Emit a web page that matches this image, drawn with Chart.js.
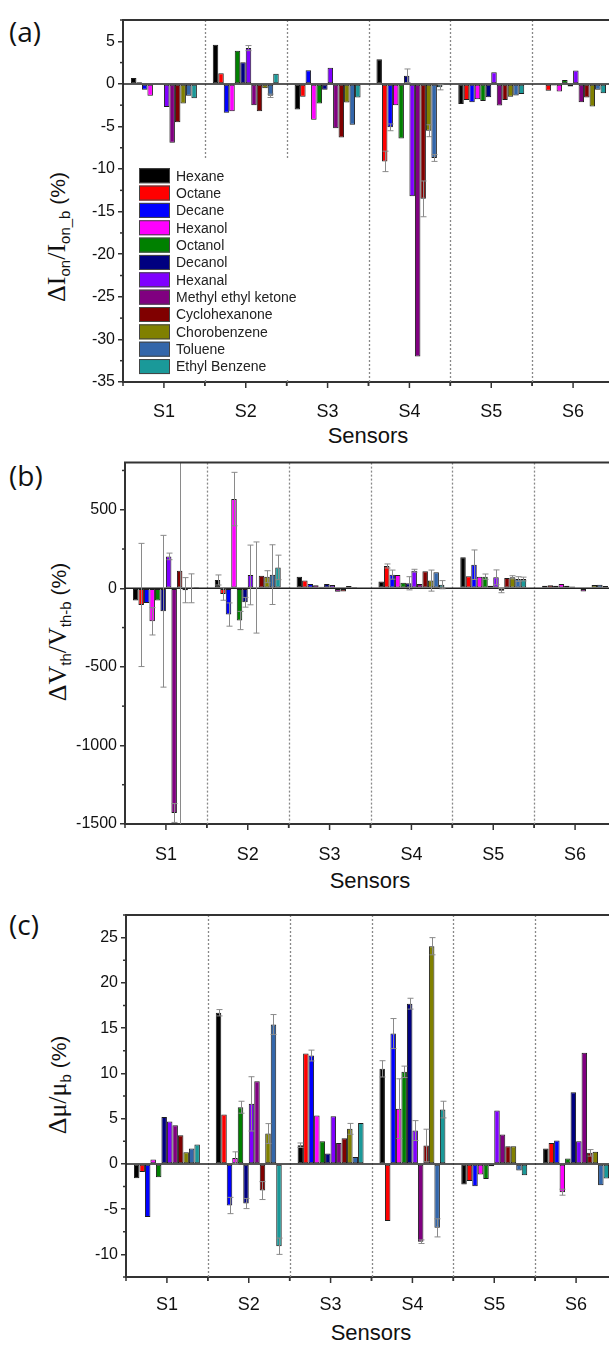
<!DOCTYPE html>
<html>
<head>
<meta charset="utf-8">
<script src="https://cdn.jsdelivr.net/npm/chart.js@4.4.0/dist/chart.umd.min.js"></script>
<style>
  html, body { margin: 0; padding: 0; background: #fff; overflow: hidden; width: 609px; height: 1347px; }
  .panel { position: absolute; left: 0; }
  .tag { position: absolute; left: 9px; font: 28px "Open Sans", "Liberation Sans", sans-serif; color: #111; }
  .ytitle { position: absolute; width: 300px; height: 30px; line-height: 30px; text-align: center;
            transform: rotate(-90deg); white-space: nowrap; font: 21px "Liberation Sans", Arial, sans-serif; color: #111; }
  .ytitle .s { font-family: "Liberation Serif", "Times New Roman", serif; font-size: 26px; }
  .ytitle sub { font-family: "Liberation Sans", Arial, sans-serif; font-size: 15px; vertical-align: -5px; }
  .xtitle { position: absolute; width: 200px; text-align: center; font: 22px "Liberation Sans", Arial, sans-serif; color: #111; }
</style>
</head>
<body>
<div class="tag" style="top:12px">(a)</div>
<div class="tag" style="top:456px">(b)</div>
<div class="tag" style="top:905px">(c)</div>

<div class="ytitle" style="left:-93px; top:222px"><span class="s">ΔI</span><sub>on</sub><span class="s">/I</span><sub>on_b</sub> (%)</div>
<div class="ytitle" style="left:-92px; top:617px"><span class="s">ΔV</span><sub>th</sub><span class="s">/V</span><sub>th-b</sub> (%)</div>
<div class="ytitle" style="left:-92px; top:1070px"><span class="s">Δμ/μ</span><sub>b</sub> (%)</div>

<div class="xtitle" style="left:268px; top:423px">Sensors</div>
<div class="xtitle" style="left:270px; top:868px">Sensors</div>
<div class="xtitle" style="left:271px; top:1320px">Sensors</div>

<canvas id="chartA" class="panel" style="top:0px" width="640" height="450"></canvas>
<canvas id="chartB" class="panel" style="top:450px" width="640" height="450"></canvas>
<canvas id="chartC" class="panel" style="top:900px" width="640" height="447"></canvas>

<script>
const sensors = ['S1', 'S2', 'S3', 'S4', 'S5', 'S6'];
const solvents = ['Hexane', 'Octane', 'Decane', 'Hexanol', 'Octanol', 'Decanol', 'Hexanal',
  'Methyl ethyl ketone', 'Cyclohexanone', 'Chorobenzene', 'Toluene', 'Ethyl Benzene'];
const solventColors = ['#000000', '#ff0000', '#0000ff', '#ff00ff', '#008000', '#000080', '#8000ff',
  '#800080', '#800000', '#808000', '#3366aa', '#1a9999'];

// (a) on-current change, %, one row per solvent, S1..S6
const ionChange = [
  [0.7, 4.6, -3.0, 2.9, -2.35, 0],
  [0.2, 1.25, -1.5, -9.1, -1.9, -0.8],
  [-0.7, -3.4, 1.6, -5.1, -2.15, -0.2],
  [-1.4, -3.2, -4.2, -2.5, -1.8, -0.9],
  [-0.1, 3.9, -2.3, -6.4, -2.0, 0.47],
  [-0.1, 2.55, -0.7, 0.95, -1.57, -0.3],
  [-2.7, 4.2, 1.9, -13.2, 1.37, 1.57],
  [-6.9, -2.5, -5.2, -32.0, -2.55, -2.15],
  [-4.5, -3.2, -6.3, -13.5, -1.9, -1.6],
  [-2.3, -0.5, -2.2, -5.5, -1.5, -2.67],
  [-1.4, -1.4, -4.8, -8.7, -1.37, -0.7],
  [-1.7, 1.2, -1.6, -0.4, -1.2, -1.1]
];
const ionError = [
  [0, 0, 0, 0, 0, 0],
  [0, 0, 0, 1.2, 0, 0],
  [0, 0, 0, 0.4, 0, 0],
  [0, 0, 0, 0, 0, 0],
  [0, 0, 0, 0, 0, 0],
  [0, 0, 0, 0.8, 0, 0],
  [0, 0.3, 0, 0, 0, 0],
  [0, 0, 0, 0, 0, 0],
  [0, 0, 0, 2.1, 0, 0],
  [0, 0, 0, 0.7, 0, 0],
  [0, 0.2, 0, 0.4, 0, 0],
  [0, 0, 0, 0.3, 0, 0]
];
const ionTicks = [-35, -30, -25, -20, -15, -10, -5, 0, 5];

// (b) threshold voltage change, %
const vthChange = [
  [-78, 53, 74, 44, 197, 17],
  [-106, -36, 49, 142, 76, 19],
  [-93, -167, 28, 87, 150, 17],
  [-210, 568, 19, 85, 74, 28],
  [-78, -205, 10, 36, 74, 17],
  [-146, -89, 28, 32, 17, 11],
  [203, 85, 21, 112, 70, 5],
  [-1430, 5, -22, 28, -15, -21],
  [112, 80, -21, 108, 66, 3],
  [-12, 74, 15, 49, 70, 21],
  [0, 87, 2, 102, 59, 23],
  [2, 133, -3, 23, 59, 15]
];
const vthError = [
  [0, 32, 0, 0, 0, 0],
  [392, 40, 0, 13, 0, 0],
  [0, 74, 0, 29, 94, 0],
  [87, 170, 0, 0, 0, 0],
  [0, 58, 0, 0, 17, 0],
  [483, 31, 0, 42, 0, 0],
  [21, 190, 0, 9, 47, 0],
  [60, 290, 0, 0, 13, 0],
  [1700, 0, 0, 0, 0, 0],
  [80, 38, 0, 67, 10, 0],
  [92, 190, 0, 0, 15, 0],
  [0, 78, 0, 26, 12, 0]
];
const vthTicks = [-1500, -1000, -500, 0, 500];

// (c) mobility change, %
const muChange = [
  [-1.6, 16.7, 2.06, 10.5, -2.28, 1.69],
  [-0.9, 5.45, 12.2, -6.3, -1.9, 2.32],
  [-5.86, -4.6, 11.97, 14.4, -2.47, 2.58],
  [0.48, 0.66, 5.34, 6.1, -1.18, -3.13],
  [-1.47, 6.26, 2.5, 10.17, -1.66, 0.59],
  [5.19, -4.38, 1.14, 17.7, -0.26, 7.92],
  [4.68, 6.63, 5.27, 3.68, 5.9, 2.5],
  [4.27, 9.13, 2.32, -8.6, 3.24, 12.27],
  [3.17, -2.95, 2.84, 2.03, 1.95, 1.22],
  [1.29, 3.35, 3.87, 24.05, 1.95, 1.33],
  [1.69, 15.4, 0.77, -7.07, -0.74, -2.36],
  [2.14, -9.1, 4.53, 6.0, -1.25, -1.62]
];
const muError = [
  [0, 0.35, 0.25, 0.9, 0, 0],
  [0, 0, 0, 0, 0, 0],
  [0, 0.9, 0.6, 1.66, 0, 0],
  [0, 0.67, 0, 3.3, 0, 0.33],
  [0, 0.66, 0, 0.63, 0, 0],
  [0, 0.56, 0, 0.6, 0, 0],
  [0, 3.0, 0, 1.1, 0, 0],
  [0, 0, 0, 0.2, 0, 0],
  [0, 0.99, 0, 1.8, 0, 0.36],
  [0, 1.1, 0.6, 0.95, 0, 0],
  [0, 1.1, 0, 1.0, 0, 0],
  [0, 0.9, 0, 0.92, 0, 0]
];
const muTicks = [-10, -5, 0, 5, 10, 15, 20, 25];

Chart.defaults.font.family = '"Liberation Sans", Arial, sans-serif';
Chart.defaults.color = '#111';

function seg(ctx, x1, y1, x2, y2) {
  ctx.beginPath();
  ctx.moveTo(x1, y1);
  ctx.lineTo(x2, y2);
  ctx.stroke();
}

// dividers, zero line, frame and minor ticks (Origin style)
const framePlugin = {
  id: 'frame',
  beforeDatasetsDraw(chart) {
    const { ctx, chartArea: a, scales: { x, y } } = chart;
    ctx.save();
    ctx.strokeStyle = '#888';
    ctx.lineWidth = 1.3;
    ctx.setLineDash([2, 2]);
    for (let i = 0; i < sensors.length - 1; i++) {
      const px = Math.round((x.getPixelForValue(i) + x.getPixelForValue(i + 1)) / 2) + 0.5;
      seg(ctx, px, a.top, px, a.bottom);
    }
    ctx.setLineDash([]);
    ctx.strokeStyle = '#222';
    ctx.lineWidth = 1.5;
    const zy = y.getPixelForValue(0);
    seg(ctx, a.left, zy, a.right, zy);
    ctx.restore();
  },
  afterDraw(chart) {
    const { ctx, chartArea: a, scales: { x, y } } = chart;
    ctx.save();
    ctx.strokeStyle = '#333';
    ctx.lineWidth = 2;
    seg(ctx, a.left - 1, a.top, a.right, a.top);
    ctx.lineWidth = 1.5;
    // x ticks: majors at sensors, minors at boundaries
    const half = (x.getPixelForValue(1) - x.getPixelForValue(0)) / 2;
    for (let i = 0; i < sensors.length; i++) {
      const cx = x.getPixelForValue(i);
      seg(ctx, cx, a.bottom, cx, a.bottom + 6);
      seg(ctx, cx - half, a.bottom, cx - half, a.bottom + 4);
      seg(ctx, cx + half, a.bottom, cx + half, a.bottom + 4);
    }
    // y minor ticks
    const t = y.ticks.map(k => k.value).sort((p, q) => p - q);
    const step = t[1] - t[0];
    for (let v = t[0] - step / 2; v <= y.max + 1e-9; v += step) {
      if (v < y.min - 1e-9) continue;
      const py = y.getPixelForValue(v);
      seg(ctx, a.left - 3, py, a.left, py);
    }
    ctx.restore();
  }
};

const errorPlugin = {
  id: 'errorBars',
  afterDatasetsDraw(chart) {
    const { ctx, chartArea: a, scales: { y } } = chart;
    ctx.save();
    ctx.beginPath();
    ctx.rect(a.left, a.top, a.right - a.left, a.bottom - a.top);
    ctx.clip();
    ctx.strokeStyle = '#8a8a8a';
    ctx.lineWidth = 1;
    chart.data.datasets.forEach((ds, di) => {
      const meta = chart.getDatasetMeta(di);
      meta.data.forEach((bar, i) => {
        const e = ds.errorBars[i];
        if (!e) return;
        const v = ds.data[i];
        const bx = Math.round(bar.x) + 0.5;
        const y1 = y.getPixelForValue(v + e);
        const y2 = y.getPixelForValue(v - e);
        seg(ctx, bx, y1, bx, y2);
        seg(ctx, bx - 3, y1, bx + 3, y1);
        seg(ctx, bx - 3, y2, bx + 3, y2);
      });
    });
    ctx.restore();
  }
};

// in-plot legend of panel (a)
const boxLegend = {
  id: 'boxLegend',
  afterDatasetsDraw(chart) {
    const { ctx, chartArea: a } = chart;
    ctx.save();
    ctx.fillStyle = '#fff';
    ctx.fillRect(a.left + 4, a.top + 138, 175, a.bottom - a.top - 142);
    ctx.font = '14px "Liberation Sans", Arial, sans-serif';
    ctx.textBaseline = 'middle';
    chart.data.datasets.forEach((ds, k) => {
      const cy = a.top + 155.7 + k * 17.35;
      ctx.fillStyle = ds.backgroundColor;
      ctx.fillRect(a.left + 16, cy - 7.5, 31, 15);
      ctx.strokeStyle = '#444';
      ctx.lineWidth = 1;
      ctx.strokeRect(a.left + 16.5, cy - 7, 30, 14);
      ctx.fillStyle = '#222';
      ctx.fillText(ds.label, a.left + 53, cy + 1);
    });
    ctx.restore();
  }
};

function makeChart(id, values, errors, yMin, yMax, ticks, box, extra) {
  return new Chart(document.getElementById(id), {
    type: 'bar',
    data: {
      labels: sensors,
      datasets: solvents.map((name, k) => ({
        label: name,
        data: values[k],
        errorBars: errors[k],
        backgroundColor: solventColors[k],
        borderColor: '#1c1c1c',
        borderWidth: 1,
        borderSkipped: false,
        barPercentage: 1,
        categoryPercentage: 0.806
      }))
    },
    options: {
      responsive: false,
      animation: false,
      devicePixelRatio: 1,
      layout: { padding: { top: box.top, right: 640 - box.left - 491, left: 0, bottom: 0 } },
      plugins: { legend: { display: false }, tooltip: { enabled: false } },
      scales: {
        x: {
          grid: { display: false },
          border: { display: true, color: '#333', width: 2 },
          ticks: { padding: box.xpad, font: { size: 18 }, color: '#111' },
          afterFit: s => { s.height = box.xh; }
        },
        y: {
          min: yMin,
          max: yMax,
          grid: { drawOnChartArea: false, drawTicks: true, tickLength: 5, color: '#333', lineWidth: 1.5 },
          border: { display: true, color: '#333', width: 2 },
          ticks: { padding: 3, font: { size: 16 }, color: '#111', callback: v => String(v) },
          afterBuildTicks: s => { s.ticks = ticks.map(v => ({ value: v })); },
          afterFit: s => { s.width = box.left; }
        }
      }
    },
    plugins: [framePlugin, errorPlugin].concat(extra)
  });
}

makeChart('chartA', ionChange, ionError, -35, 7.5, ionTicks,
  { top: 20, left: 123, xh: 68, xpad: 11 }, [boxLegend]);
makeChart('chartB', vthChange, vthError, -1500, 800, vthTicks,
  { top: 12, left: 125, xh: 76, xpad: 12 }, []);
makeChart('chartC', muChange, muError, -12.5, 27.5, muTicks,
  { top: 15, left: 126, xh: 70, xpad: 9 }, []);
</script>
</body>
</html>
